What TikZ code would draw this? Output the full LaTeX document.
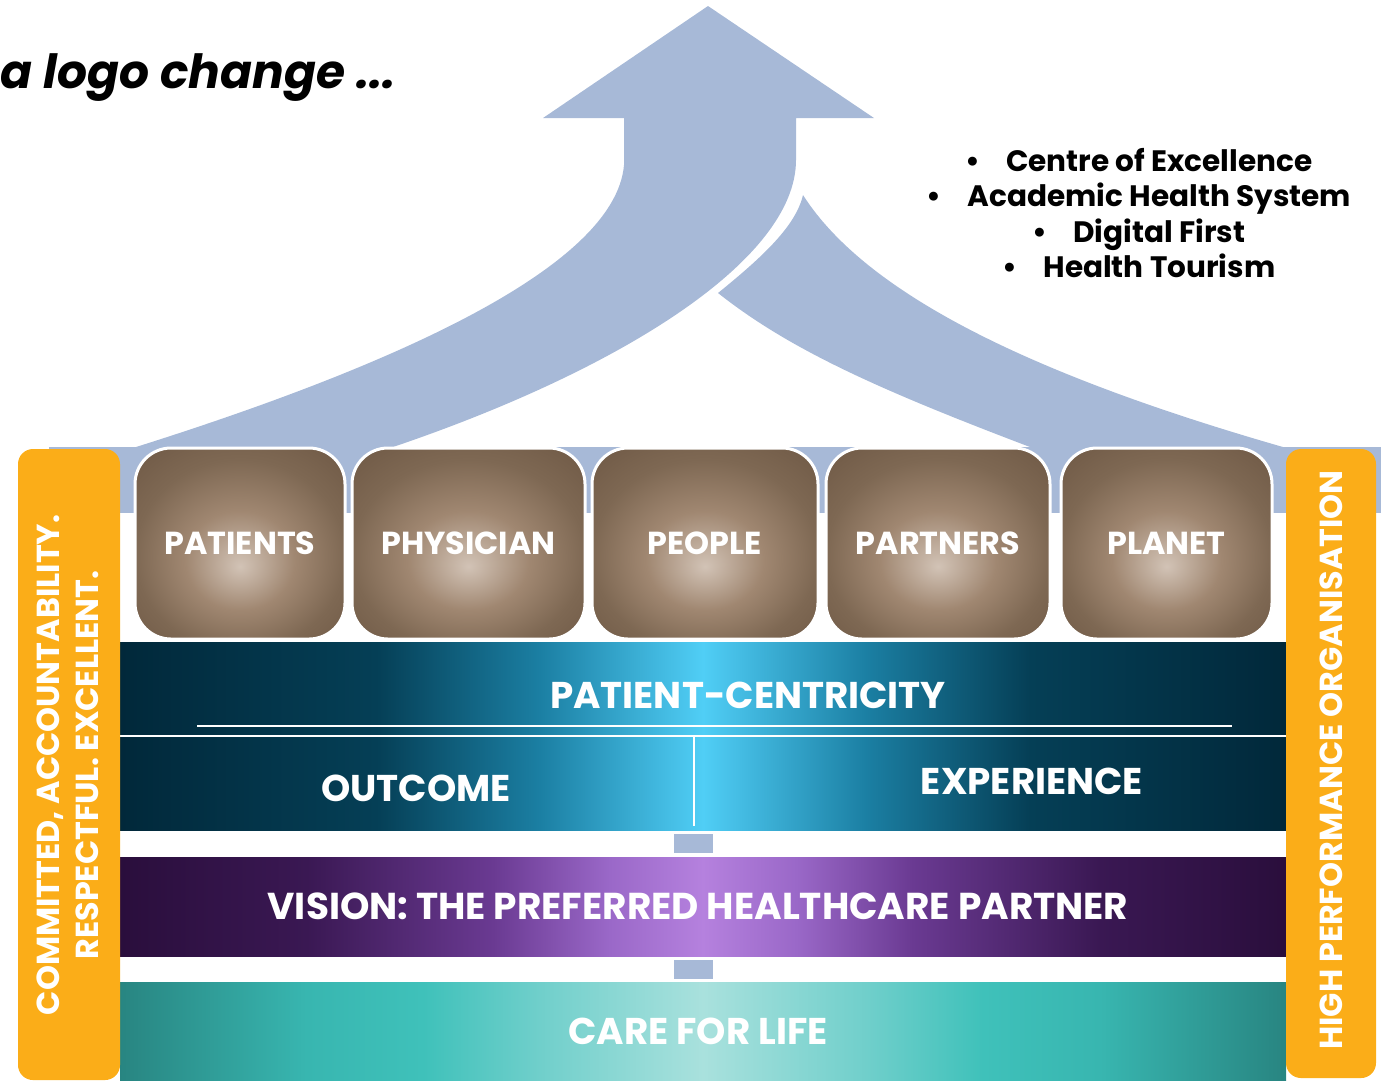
\documentclass[tikz,border=0pt]{standalone}
\usepackage{fontspec}
\setmainfont{Poppins}
\usetikzlibrary{positioning}

\definecolor{arrowblue}{HTML}{A7B9D7}
\definecolor{pillar}{HTML}{FBAD18}
\definecolor{tealdark}{HTML}{01283A}
\definecolor{tealdeep}{HTML}{053F56}
\definecolor{tealmid}{HTML}{1B7FA3}
\definecolor{tealbright}{HTML}{50CEF6}
\definecolor{violetdark}{HTML}{2A0E3C}
\definecolor{violetdeep}{HTML}{3A1853}
\definecolor{violetmid}{HTML}{6A3A92}
\definecolor{violetsoft}{HTML}{9A68C8}
\definecolor{violetbright}{HTML}{B581DE}
\definecolor{aquadark}{HTML}{288581}
\definecolor{aquadeep}{HTML}{38B6B0}
\definecolor{aquamid}{HTML}{3FC1BA}
\definecolor{aquasoft}{HTML}{70CFCB}
\definecolor{aquabright}{HTML}{A9E1DD}
\definecolor{brownlight}{HTML}{D2C3B6}
\definecolor{brownmid}{HTML}{A08771}
\definecolor{brownedge}{HTML}{7E6853}
\definecolor{browncorner}{HTML}{6A5441}

% band shadings (visible part 25bp..75bp)
\pgfdeclarehorizontalshading{tealband}{100bp}{color(0bp)=(tealdark); color(25bp)=(tealdark);
  color(36bp)=(tealdeep); color(43bp)=(tealmid); color(50bp)=(tealbright);
  color(57bp)=(tealmid); color(64bp)=(tealdeep); color(75bp)=(tealdark); color(100bp)=(tealdark)}
\pgfdeclarehorizontalshading{visionband}{100bp}{color(0bp)=(violetdark); color(25bp)=(violetdark);
  color(33bp)=(violetdeep); color(41bp)=(violetmid); color(46bp)=(violetsoft); color(50bp)=(violetbright);
  color(54bp)=(violetsoft); color(59bp)=(violetmid); color(67bp)=(violetdeep); color(75bp)=(violetdark); color(100bp)=(violetdark)}
\pgfdeclarehorizontalshading{careband}{100bp}{color(0bp)=(aquadark); color(25bp)=(aquadark);
  color(33bp)=(aquadeep); color(38bp)=(aquamid); color(43bp)=(aquasoft); color(50bp)=(aquabright);
  color(57bp)=(aquasoft); color(62bp)=(aquamid); color(67bp)=(aquadeep); color(75bp)=(aquadark); color(100bp)=(aquadark)}
\pgfdeclareradialshading{brownglow}{\pgfpoint{0bp}{-6bp}}{color(0bp)=(brownlight); color(13bp)=(brownmid);
  color(25bp)=(brownedge); color(40bp)=(browncorner); color(50bp)=(browncorner)}

\newcommand{\logofont}{\bfseries\itshape\fontsize{13.4}{15}\selectfont}
\newcommand{\listfont}{\bfseries\fontsize{8.4}{10}\selectfont}
\newcommand{\boxfont}{\bfseries\fontsize{9.05}{10}\selectfont}
\newcommand{\bandfont}{\bfseries\fontsize{10.6}{12}\selectfont}
\newcommand{\sidefont}{\bfseries\fontsize{9.05}{11}\selectfont}

\tikzset{
  valuebox/.style={draw=white, line width=0.3mm, rounded corners=3.6mm, shade, shading=brownglow,
    minimum width=#1, minimum height=19.1mm, inner sep=0pt, text=white, font=\boxfont},
  bandtext/.style={text=white, font=\bandfont, inner sep=0pt},
  sidetext/.style={text=white, font=\sidefont, inner sep=0pt, rotate=90, align=center},
  joint/.style={fill=arrowblue},
}

\begin{document}
\begin{tikzpicture}[x=0.1mm, y=-0.1mm]
  \useasboundingbox (0,0) rectangle (1381,1080);

  % arrows
  \fill[arrowblue] (718,293) .. controls (765,255) and (796,225) .. (803,195)
    .. controls (870,300) and (1050,380) .. (1283,447) -- (1030,447)
    .. controls (880,390) and (790,350) .. (718,293) -- cycle;
  \fill[arrowblue] (136,447) .. controls (380,370) and (615,270) .. (624,165) -- (624,118)
    -- (543,118) -- (708,6) -- (874,118) -- (796,118) -- (796,160)
    .. controls (796,260) and (620,370) .. (393,447) -- cycle;
  \fill[arrowblue] (49,447) rectangle (1381,513);

  \node[font=\logofont, anchor=base west, inner sep=0pt] (slogan) at (0,88) {a logo change ...};
  \node[font=\listfont, align=center] (goals) at (1139,213)
    {\textbullet\hspace{2.6mm}Centre of Excellence\\
     \textbullet\hspace{2.6mm}Academic Health System\\
     \textbullet\hspace{2.6mm}Digital First\\
     \textbullet\hspace{2.6mm}Health Tourism};

  % the five values
  \node[valuebox=21mm]   (patients)  at (240,543.5)  {PATIENTS};
  \node[valuebox=23.3mm] (physician) at (468.5,543.5) {PHYSICIAN};
  \node[valuebox=22.6mm] (people)    at (705,543.5)  {PEOPLE};
  \node[valuebox=22.4mm] (partners)  at (938,543.5)  {PARTNERS};
  \node[valuebox=21.1mm] (planet)    at (1166.5,543.5) {PLANET};

  % bands
  \shade[shading=tealband] (120,642) rectangle (1286,830);
  \draw[white, line width=0.2mm] (120,736) -- (1286,736);
  \draw[white, line width=0.12mm] (197,726) -- (1232,726);
  \draw[white, line width=0.12mm] (694,737) -- (694,826);
  \fill[joint] (674,834) rectangle (713,853);
  \shade[shading=visionband] (120,857) rectangle (1286,956);
  \fill[joint] (674,960) rectangle (713,979);
  \shade[shading=careband] (120,982) rectangle (1286,1080);

  \node[bandtext, font=\bfseries\fontsize{10.6}{12}\selectfont] (centric) at (748,695) {PATIENT-CENTRICITY};
  \node[bandtext] (outcome)    at (416,788)  {OUTCOME};
  \node[bandtext] (experience) at (1032,781) {EXPERIENCE};
  \node[bandtext, font=\bfseries\fontsize{10.65}{12}\selectfont] (vision) at (698,906) {VISION: THE PREFERRED HEALTHCARE PARTNER};
  \node[bandtext] (care)       at (698,1031) {CARE FOR LIFE};

  % pillars
  \fill[pillar, rounded corners=1.5mm] (18,449) rectangle (120,1080);
  \fill[pillar, rounded corners=1.5mm] (1286,449) rectangle (1376,1078);
  \node[sidetext] (values) at (68,765) {COMMITTED, ACCOUNTABILITY.\\RESPECTFUL. EXCELLENT.};
  \node[sidetext] (hpo) at (1331,760) {HIGH PERFORMANCE ORGANISATION};
\end{tikzpicture}
\end{document}
